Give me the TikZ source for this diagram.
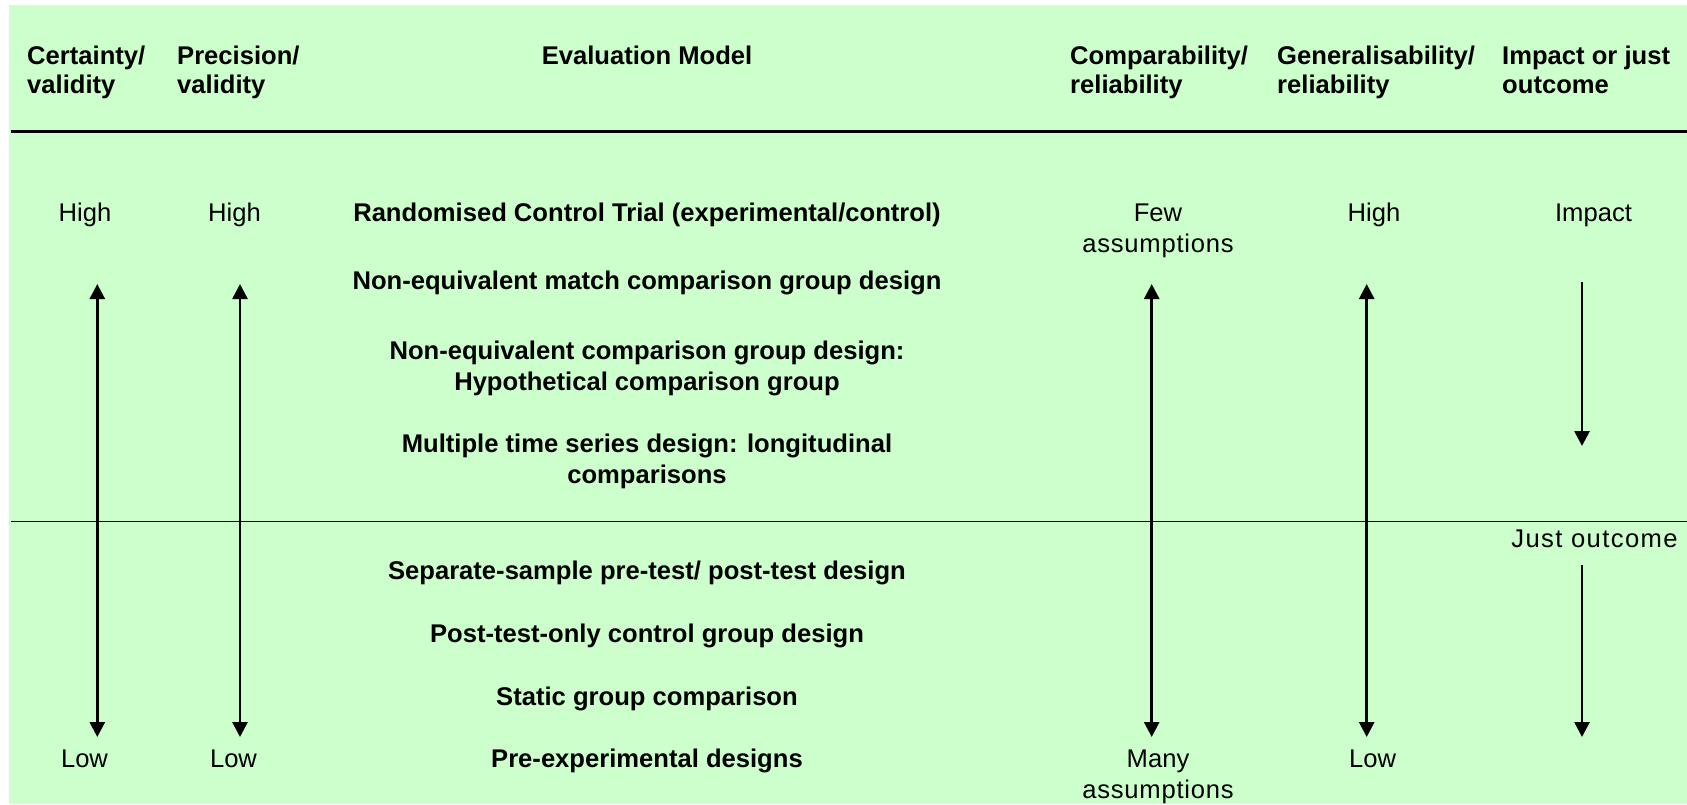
\documentclass[tikz,border=0pt]{standalone}
\usepackage{fontspec}
\setmainfont{Liberation Sans}
\usetikzlibrary{arrows.meta}
\definecolor{bg}{HTML}{CCFFCC}
\newcommand\twoc[2]{\vtop{\halign{\hfil##\hfil\cr #1\cr #2\cr}}}
\newcommand\twol[2]{\vtop{\hbox{#1}\hbox{#2}}}
\newcommand\hdrfont{\fontsize{25.6}{29.5}\selectfont\bfseries}
\newcommand\regfont{\fontsize{25.6}{31}\selectfont}
\newcommand\bldfont{\fontsize{25.6}{31}\selectfont\bfseries}
\newcommand\wide[2]{{\addfontfeature{LetterSpace=#1}#2}}
\tikzset{
  hdr/.style={inner sep=0pt, anchor=base west, font=\hdrfont},
  hdrc/.style={inner sep=0pt, anchor=base, font=\hdrfont},
  lbl/.style={inner sep=0pt, anchor=base, font=\regfont},
  bld/.style={inner sep=0pt, anchor=base, font=\bldfont},
  arr/.style={line width=2.7pt, -{Triangle[width=15pt,length=15pt]}},
  darr/.style={line width=2.7pt, {Triangle[width=15pt,length=15pt]}-{Triangle[width=15pt,length=15pt]}},
  thickrule/.style={line width=2.8pt},
  thinrule/.style={line width=1.6pt}
}
\begin{document}
\begin{tikzpicture}[x=1pt,y=-1pt]
\useasboundingbox (0,0) rectangle (1687,804);
\fill[bg] (9,5) rectangle (1687,804);
\draw[thickrule] (11,131.5) -- (1687,131.5);
\draw[thinrule] (11,521.5) -- (1687,521.5);

% headers
\node[hdr] (hc) at (27,64) {\twol{Certainty/}{validity}};
\node[hdr] (hp) at (177,64) {\twol{Precision/}{validity}};
\node[hdrc] (he) at (647,64) {Evaluation Model};
\node[hdr] (hcomp) at (1070,64) {\twol{Comparability/}{reliability}};
\node[hdr] (hgen) at (1277,64) {\twol{Generalisability/}{reliability}};
\node[hdr] (himp) at (1502,64) {\twol{Impact or just}{outcome}};

% top row
\node[lbl] (h1) at (85,221) {High};
\node[lbl] (h2) at (234.5,221) {High};
\node[bld] (m1) at (647,221) {Randomised Control Trial (experimental/control)};
\node[lbl] (few) at (1158,221) {\twoc{Few}{\wide{3}{assumptions}}};
\node[lbl] (h4) at (1374,221) {High};
\node[lbl] (imp) at (1593.5,221) {Impact};

% middle models
\node[bld] (m2) at (647,289) {Non-equivalent match comparison group design};
\node[bld] (m3) at (647,359) {\twoc{Non-equivalent comparison group design:}{Hypothetical comparison group}};
\node[bld] (m4) at (647,452) {\twoc{Multiple time series design: longitudinal}{comparisons}};
\node[lbl] (jo) at (1594.5,547.5) {\wide{5.5}{Just outcome}};
\node[bld] (m5) at (647,579) {Separate-sample pre-test/ post-test design};
\node[bld] (m6) at (647,642) {Post-test-only control group design};
\node[bld] (m7) at (647,705) {Static group comparison};

% bottom row
\node[bld] (m8) at (647,767) {Pre-experimental designs};
\node[lbl] (l1) at (84.5,767) {Low};
\node[lbl] (l2) at (233.5,767) {Low};
\node[lbl] (many) at (1158,767) {\twoc{Many}{\wide{3}{assumptions}}};
\node[lbl] (l4) at (1372.5,767) {Low};

% arrow end points
\coordinate (a1t) at (97.3,284);
\coordinate (a1b) at (97.3,737);
\coordinate (a2t) at (240,284);
\coordinate (a2b) at (240,737);
\coordinate (a3t) at (1151.7,284);
\coordinate (a3b) at (1151.7,737);
\coordinate (a4t) at (1366.7,284);
\coordinate (a4b) at (1366.7,737);
\coordinate (i1s) at (1582,282);
\coordinate (i1e) at (1582,446);
\coordinate (j1s) at (1582,565);
\coordinate (j1e) at (1582,737);

\draw[darr] (a1t) -- (a1b);
\draw[darr] (a2t) -- (a2b);
\draw[darr] (a3t) -- (a3b);
\draw[darr] (a4t) -- (a4b);
\draw[arr] (i1s) -- (i1e);
\draw[arr] (j1s) -- (j1e);
\end{tikzpicture}
\end{document}
